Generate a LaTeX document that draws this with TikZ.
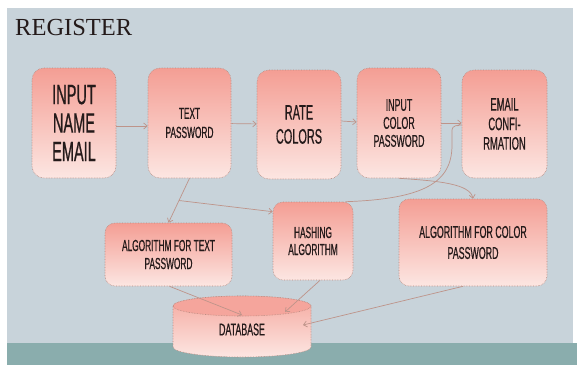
\documentclass[tikz,border=0pt]{standalone}
\usepackage{fontspec}
\setmainfont{Liberation Serif}
\newfontfamily\boxfont[FakeStretch=0.52,FakeBold=0.6]{Liberation Sans}
\usetikzlibrary{arrows.meta,calc}

\definecolor{panel}{RGB}{200,211,218}
\definecolor{floorband}{RGB}{138,173,173}
\definecolor{boxtop}{RGB}{244,158,148}
\definecolor{boxbot}{RGB}{252,230,226}
\definecolor{boxline}{RGB}{184,138,128}
\definecolor{linkcol}{RGB}{190,148,138}
\definecolor{ink}{RGB}{36,26,26}

\tikzset{
  stagebox/.style={rectangle, rounded corners=12pt, top color=boxtop, bottom color=boxbot,
    draw=boxline, densely dotted, line width=0.6pt, inner sep=0pt, align=center,
    text=ink, font=\boxfont},
  algbox/.style={stagebox, rounded corners=10pt},
  link/.style={draw=linkcol, line width=0.7pt, solid,
    -{Straight Barb[length=3.5pt,width=6pt]}},
  plainlink/.style={draw=linkcol, line width=0.7pt, solid},
}

\begin{document}
\begin{tikzpicture}[x=1pt,y=-1pt]
  \useasboundingbox (0,0) rectangle (577,365);
  % backdrop
  \fill[white] (0,0) rectangle (577,365);
  \fill[panel] (7,8) rectangle (573,343);
  \fill[floorband] (7,343) rectangle (577,365);

  % title
  \node[anchor=base west, inner sep=0pt, text=ink,
        font=\fontsize{24.5}{24.5}\selectfont] (title) at (15,35) {REGISTER};

  % registration steps
  \node[stagebox, minimum width=84pt, minimum height=110pt,
        font=\boxfont\fontsize{28}{28.5}\selectfont] (inp) at (74,123)
        {INPUT\\NAME\\EMAIL};
  \node[stagebox, minimum width=83pt, minimum height=110pt,
        font=\boxfont\fontsize{16}{19}\selectfont] (tpw) at (189.5,123)
        {TEXT\\PASSWORD};
  \node[stagebox, minimum width=84pt, minimum height=109pt,
        font=\boxfont\fontsize{21}{24}\selectfont] (rate) at (299,124.5)
        {RATE\\COLORS};
  \node[stagebox, minimum width=84pt, minimum height=110pt,
        font=\boxfont\fontsize{17}{18}\selectfont] (icp) at (399,123)
        {INPUT\\COLOR\\PASSWORD};
  \node[stagebox, minimum width=85pt, minimum height=108pt,
        font=\boxfont\fontsize{18}{19.5}\selectfont] (ec) at (504.5,124)
        {EMAIL\\CONFI-\\RMATION};

  % algorithms
  \node[algbox, minimum width=127pt, minimum height=63pt,
        font=\boxfont\fontsize{16}{18}\selectfont] (atp) at (168.5,254.5)
        {ALGORITHM FOR TEXT\\PASSWORD};
  \node[algbox, minimum width=80pt, minimum height=78pt,
        font=\boxfont\fontsize{16}{17}\selectfont] (hash) at (313,241)
        {HASHING\\ALGORITHM};
  \node[algbox, minimum width=148pt, minimum height=87pt,
        font=\boxfont\fontsize{17}{21}\selectfont] (acp) at (473,242.5)
        {ALGORITHM FOR COLOR\\PASSWORD};

  % database cylinder
  \path[top color=boxtop!85!boxbot, bottom color=boxbot, draw=boxline,
        densely dotted, line width=0.6pt]
    (173,306) -- (173,347)
    arc[start angle=180, end angle=360, x radius=69pt, y radius=10pt]
    -- (311,306)
    arc[start angle=0, end angle=180, x radius=69pt, y radius=10pt] -- cycle;
  \path[fill=boxtop!90!boxbot, draw=boxline, densely dotted, line width=0.6pt]
    (242,306) ellipse[x radius=69pt, y radius=10pt];
  \node[inner sep=0pt, text=ink, font=\boxfont\fontsize{17}{17}\selectfont]
    (db) at (242,329.5) {DATABASE};
  \coordinate (dbA) at (242,315);
  \coordinate (dbB) at (285,312);
  \coordinate (dbC) at (303,325);

  % flow along the top row
  \draw[link] (inp.east |- 0,126) -- (tpw.west |- 0,126);
  \draw[link] (tpw) -- (rate);
  \draw[link] (rate.east |- 0,121) -- (icp.west |- 0,122);
  \draw[link] (icp.east |- 0,123) -- (ec.west |- 0,123);

  % text password into its algorithm and the hashing step
  \coordinate (br) at ($(tpw.south)!0.5!(atp.north)$);
  \draw[link] (tpw.south) -- (atp.north);
  \draw[link] (br) -- ([yshift=-10pt]hash.north west);

  % hashing result back to the confirmation step
  \draw[plainlink] ([xshift=-8pt]hash.north east)
    .. controls (425,199) and (452,182) .. (452,145) -- (452,130)
    to[out=90, in=180] ([yshift=-1pt]ec.west);

  % colour password into its algorithm
  \draw[link] (icp.south) .. controls (440,181) and (470,184) .. (acp.north);

  % everything ends in the database
  \draw[link] ([xshift=1pt]atp.south) -- (dbA);
  \draw[link] ([xshift=7pt]hash.south) -- (dbB);
  \draw[link] ([xshift=-10pt]acp.south) -- (dbC);
\end{tikzpicture}
\end{document}
